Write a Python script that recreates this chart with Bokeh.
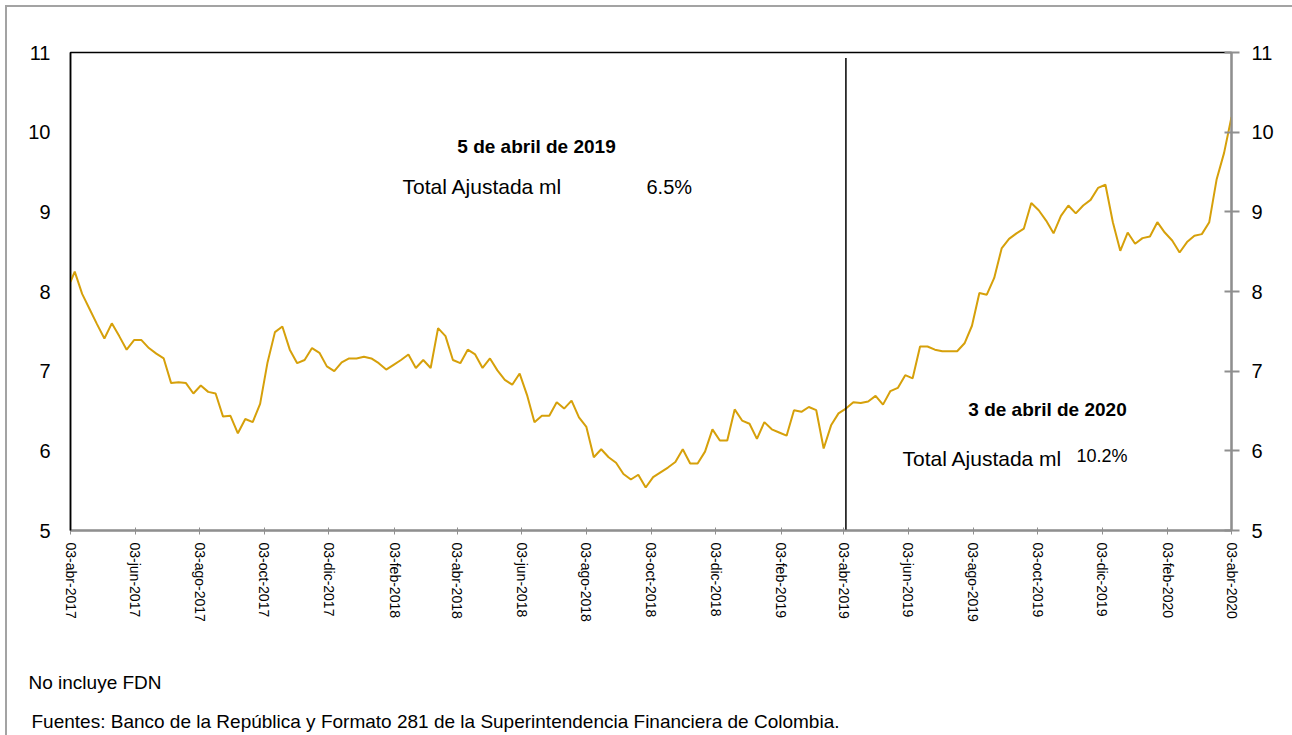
import pandas as pd
from bokeh.plotting import figure
from bokeh.layouts import column
from bokeh.models import FixedTicker, LinearAxis, Range1d, Label
from bokeh.embed import file_html
from bokeh.resources import INLINE

# ---------------- data ----------------
first_date = "2017-04-03"
weekly_start = "2017-04-07"
weekly_end = "2020-04-03"
marker_date = "2019-04-05"

values = [
    8.12,
    8.25, 7.97, 7.78, 7.59, 7.41, 7.60, 7.44, 7.27, 7.39, 7.39,
    7.29, 7.22, 7.16, 6.85, 6.86, 6.85, 6.72, 6.82, 6.74, 6.72,
    6.43, 6.44, 6.22, 6.40, 6.36, 6.59, 7.11, 7.49, 7.56, 7.27,
    7.10, 7.14, 7.29, 7.23, 7.06, 7.00, 7.11, 7.16, 7.16, 7.18,
    7.16, 7.10, 7.02, 7.08, 7.14, 7.21, 7.04, 7.14, 7.04, 7.54,
    7.44, 7.14, 7.10, 7.27, 7.21, 7.04, 7.16, 7.01, 6.89, 6.83,
    6.97, 6.70, 6.36, 6.44, 6.44, 6.61, 6.53, 6.63, 6.42, 6.30,
    5.92, 6.02, 5.92, 5.85, 5.71, 5.64, 5.70, 5.54, 5.67, 5.73,
    5.79, 5.86, 6.02, 5.84, 5.84, 5.99, 6.27, 6.13, 6.13, 6.52,
    6.38, 6.34, 6.15, 6.36, 6.27, 6.23, 6.19, 6.51, 6.49, 6.55,
    6.51, 6.03, 6.32, 6.47, 6.53, 6.61, 6.60, 6.62, 6.69, 6.58,
    6.75, 6.79, 6.95, 6.91, 7.31, 7.31, 7.27, 7.25, 7.25, 7.25,
    7.35, 7.57, 7.98, 7.96, 8.17, 8.54, 8.66, 8.73, 8.79, 9.11,
    9.02, 8.89, 8.73, 8.95, 9.08, 8.98, 9.08, 9.15, 9.30, 9.34,
    8.87, 8.51, 8.74, 8.60, 8.67, 8.69, 8.87, 8.74, 8.64, 8.49,
    8.62, 8.70, 8.72, 8.87, 9.41, 9.74, 10.19,
]

tick_dates = [
    "2017-04-03", "2017-06-03", "2017-08-03", "2017-10-03", "2017-12-03",
    "2018-02-03", "2018-04-03", "2018-06-03", "2018-08-03", "2018-10-03",
    "2018-12-03", "2019-02-03", "2019-04-03", "2019-06-03", "2019-08-03",
    "2019-10-03", "2019-12-03", "2020-02-03", "2020-04-03",
]
tick_labels = [
    "03-abr-2017", "03-jun-2017", "03-ago-2017", "03-oct-2017", "03-dic-2017",
    "03-feb-2018", "03-abr-2018", "03-jun-2018", "03-ago-2018", "03-oct-2018",
    "03-dic-2018", "03-feb-2019", "03-abr-2019", "03-jun-2019", "03-ago-2019",
    "03-oct-2019", "03-dic-2019", "03-feb-2020", "03-abr-2020",
]
y_ticks = [5, 6, 7, 8, 9, 10, 11]

ann1_title = "5 de abril de 2019"
ann1_label = "Total Ajustada ml"
ann1_value = "6.5%"
ann2_title = "3 de abril de 2020"
ann2_label = "Total Ajustada ml"
ann2_value = "10.2%"
note1 = "No incluye FDN"
note2 = "Fuentes: Banco de la República y Formato 281 de la Superintendencia Financiera de Colombia."

# ---------------- build ----------------
def ms(d):
    return float(pd.Timestamp(d).value // 10**6)

dates = [pd.Timestamp(first_date)] + list(pd.date_range(weekly_start, weekly_end, freq="7D"))
x_ms = [ms(d) for d in dates]
tick_ms = [ms(d) for d in tick_dates]

FONT = "Liberation Sans"
LINE_COLOR = "#D6A00A"
GRAY = "#8f8f8f"
W = 1285

p = figure(width=W, height=633, x_axis_type="datetime",
           x_range=Range1d(tick_ms[0], tick_ms[-1]), y_range=Range1d(5, 11),
           output_backend="svg", toolbar_location=None,
           min_border_left=63, min_border_right=61, min_border_top=45, min_border_bottom=110)
p.xgrid.visible = False
p.ygrid.visible = False
p.outline_line_color = "black"
p.outline_line_width = 1.5
p.background_fill_color = "white"
p.border_fill_color = "white"

# x axis
xa = p.xaxis[0]
xa.ticker = FixedTicker(ticks=tick_ms)
xa.major_label_overrides = {t: lab for t, lab in zip(tick_ms, tick_labels)}
xa.major_label_orientation = "vertical"
xa.major_label_text_font = FONT
xa.major_label_text_font_size = "14px"
xa.major_label_text_color = "black"
xa.axis_line_color = GRAY
xa.axis_line_width = 2
xa.major_tick_line_color = GRAY
xa.major_tick_in = 3
xa.major_tick_out = 4
xa.minor_tick_line_color = None
xa.major_label_standoff = 8

# left y axis
ya = p.yaxis[0]
ya.ticker = FixedTicker(ticks=y_ticks)
ya.major_label_text_font = FONT
ya.major_label_text_font_size = "20px"
ya.major_label_text_color = "black"
ya.axis_line_color = "black"
ya.axis_line_width = 1.5
ya.major_tick_line_color = None
ya.major_tick_in = 0
ya.major_tick_out = 0
ya.minor_tick_line_color = None
ya.major_label_standoff = 20

# right y axis
ra = LinearAxis(ticker=FixedTicker(ticks=y_ticks))
ra.major_label_text_font = FONT
ra.major_label_text_font_size = "20px"
ra.major_label_text_color = "black"
ra.axis_line_color = GRAY
ra.axis_line_width = 2
ra.major_tick_line_color = GRAY
ra.major_tick_line_width = 2
ra.major_tick_in = 7
ra.major_tick_out = 8
ra.minor_tick_line_color = None
ra.major_label_standoff = 12
p.add_layout(ra, "right")

# series
p.line(x=x_ms, y=values, line_color=LINE_COLOR, line_width=2)

# marker line at 5-abr-2019
p.segment(x0=[ms(marker_date)], y0=[y_ticks[0]], x1=[ms(marker_date)], y1=[10.93],
          line_color="black", line_width=1.5)

def lab(fig, text, x, y, size, bold=False, align="left", units="screen"):
    fig.add_layout(Label(x=x, y=y, x_units=units, y_units=units, text=text,
                         text_font=FONT, text_font_size=size,
                         text_font_style="bold" if bold else "normal",
                         text_align=align, text_baseline="middle", text_color="black"))

# annotations (screen units relative to plot frame)
lab(p, ann1_title, 466, 384, "19px", bold=True, align="center")
lab(p, ann1_label, 332, 344, "21px")
lab(p, ann1_value, 576, 344, "20px")
lab(p, ann2_title, 977, 121, "19px", bold=True, align="center")
lab(p, ann2_label, 832, 72, "21px")
lab(p, ann2_value, 1006, 75, "18px")

# notes strip below the chart
p2 = figure(width=W, height=95, x_range=Range1d(0, W), y_range=Range1d(95, 0),
            output_backend="svg", toolbar_location=None,
            x_axis_location=None, y_axis_location=None,
            min_border=0, min_border_left=0, min_border_right=0,
            min_border_top=0, min_border_bottom=0)
p2.frame_align = False
p2.xgrid.visible = False
p2.ygrid.visible = False
p2.outline_line_color = None
p2.background_fill_color = "white"
p2.border_fill_color = "white"
lab(p2, note1, 21, 42, "19px", units="data")
lab(p2, note2, 24, 81, "19px", units="data")

layout = column(p, p2, spacing=0,
                styles={"border-top": "2px solid #a3a3a3", "border-left": "2px solid #a3a3a3",
                        "margin-left": "5px", "margin-top": "5px"})

open("out.html", "w").write(file_html(layout, INLINE))
